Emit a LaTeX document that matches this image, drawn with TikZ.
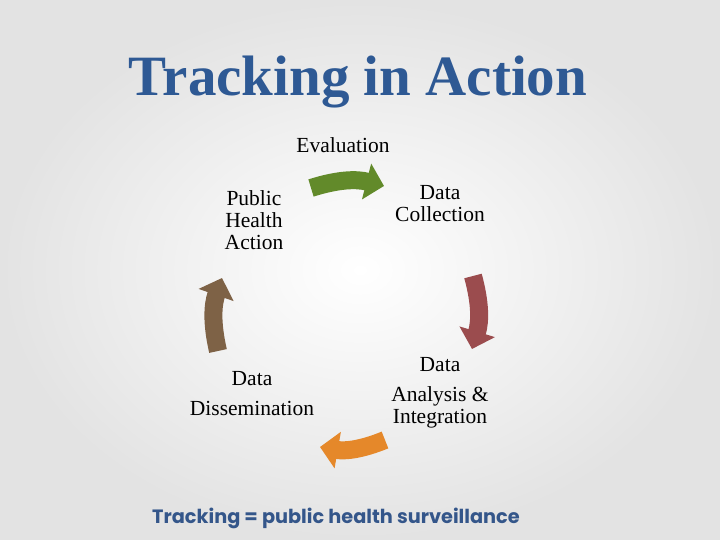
\documentclass[tikz,border=0pt]{standalone}
\usepackage{fontspec}
\usepackage{tikz}
\usetikzlibrary{arrows.meta}
\setmainfont{Liberation Serif}
\newfontfamily\gothic{Poppins}
\definecolor{titleblue}{RGB}{46,89,148}
\definecolor{mottoblue}{RGB}{52,86,138}
\definecolor{evalgreen}{RGB}{98,138,42}
\definecolor{collectred}{RGB}{155,76,78}
\definecolor{analysisorange}{RGB}{229,136,42}
\definecolor{dissembrown}{RGB}{126,98,70}

\begin{document}
\begin{tikzpicture}[x=1pt,y=1pt]
	\shade[inner color=white,middle color=white,outer color=black!11] (0,0) rectangle (720,540);
	\useasboundingbox (0,0) rectangle (720,540);
	
	\node [font=\fontsize{57}{62}\selectfont\bfseries,text=titleblue] (title) at (358,458) {Tracking in Action};
	
	\begin{scope}[every node/.style={align=center,font=\fontsize{21.5}{22}\selectfont}]
		\node (eval) at (343,395) {Evaluation};
		\node (pha) at (254,320) {Public\\Health\\Action};
		\node (dc) at (440,336) {Data\\Collection};
		\node (dai) at (440,147) {Data\\[8pt]Analysis \&\\Integration};
		\node (dd) at (252,146) {Data\\[8pt]Dissemination};
	\end{scope}
	
	\coordinate (g1) at (311,352);
	\coordinate (g2) at (384,354);
	\coordinate (r1) at (473,264);
	\coordinate (r2) at (472,191);
	\coordinate (o1) at (385,100);
	\coordinate (o2) at (320,93);
	\coordinate (b1) at (218,189);
	\coordinate (b2) at (222,262);
	
	\begin{scope}[every edge/.style={draw,line width=18pt,-{Triangle[width=36pt,length=18pt]},bend left=16}]
		\path (g1) edge [draw=evalgreen] (g2);
		\path (r1) edge [draw=collectred] (r2);
		\path (o1) edge [draw=analysisorange] (o2);
		\path (b1) edge [draw=dissembrown] (b2);
	\end{scope}
	
	\node [font=\gothic\bfseries\fontsize{19.3}{22}\selectfont,text=mottoblue] (motto) at (336,22) {Tracking = public health surveillance};
\end{tikzpicture}
\end{document}
